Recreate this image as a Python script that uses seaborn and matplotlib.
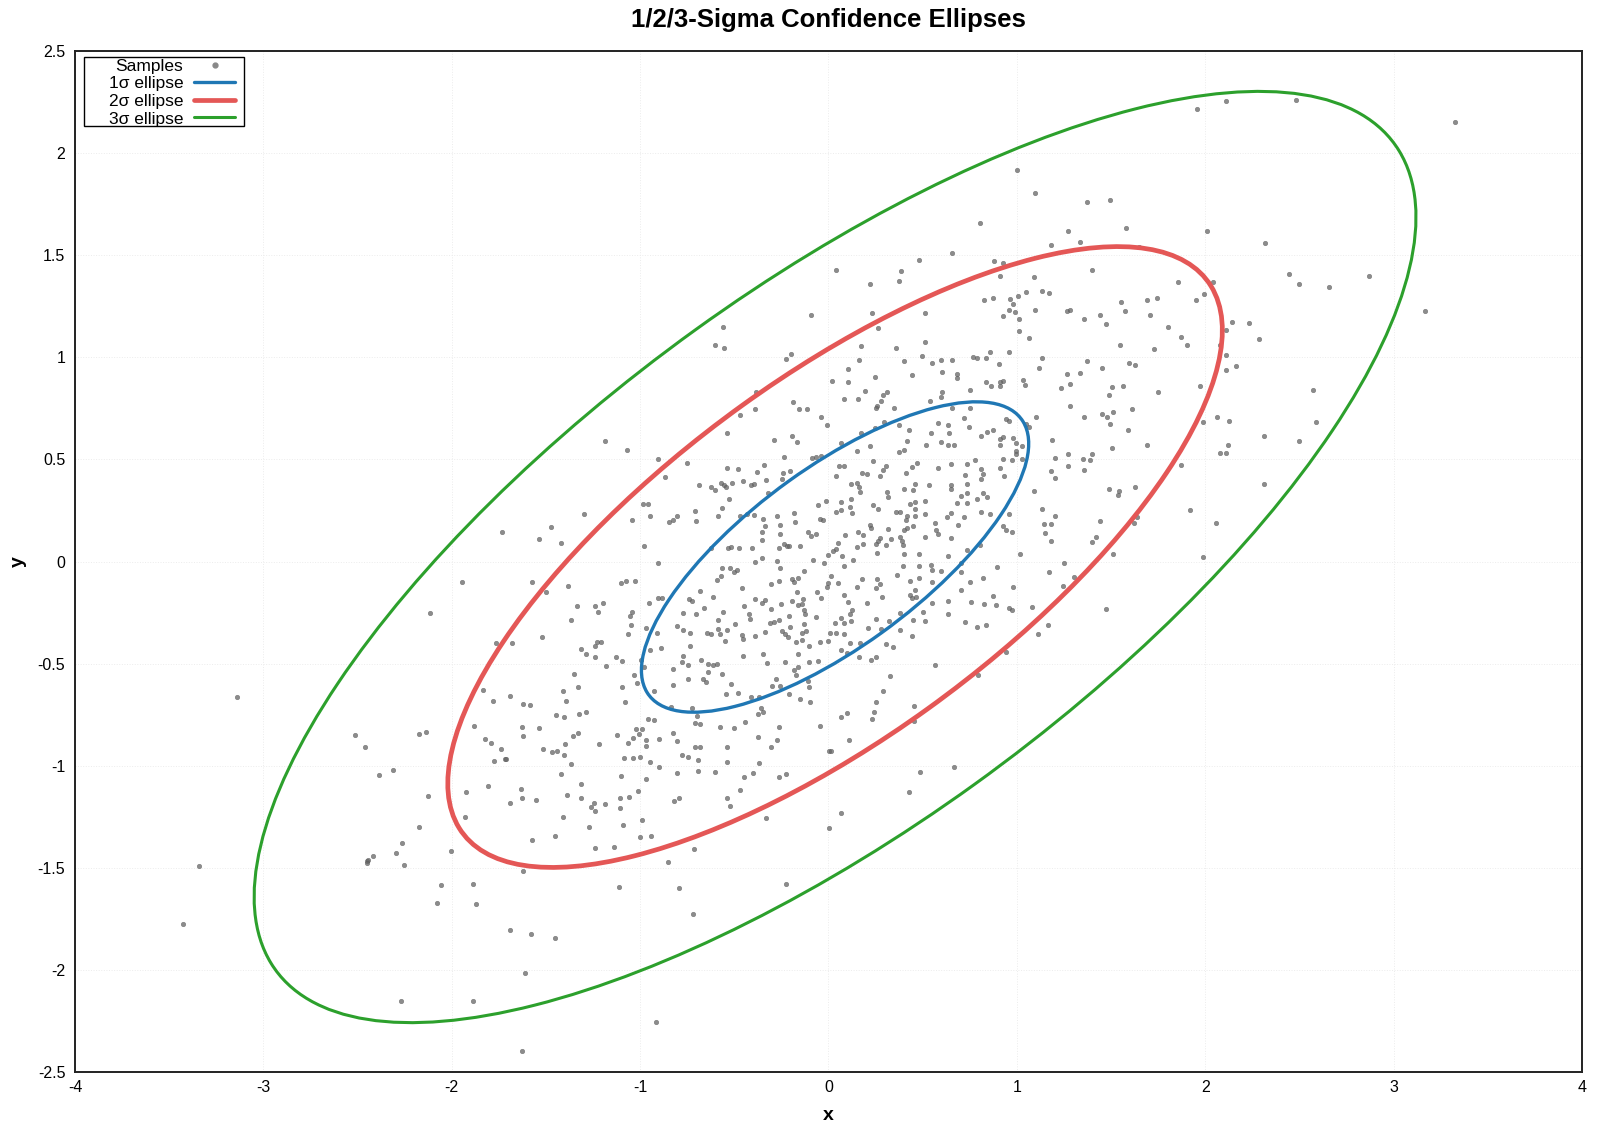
import numpy as np
import pandas as pd
import matplotlib
matplotlib.use("Agg")
import matplotlib.pyplot as plt
import seaborn as sns
from matplotlib.patches import Ellipse, Rectangle
from matplotlib.lines import Line2D
from matplotlib.ticker import MultipleLocator, FormatStrFormatter

# sample points, region by region
sample_pts = [
    # upper middle
    (-0.094, 1.205), (-0.561, 1.147), (-0.603, 1.058), (-0.556, 1.044), (-0.226, 0.99), (-0.2, 1.014),
    (-0.386, 0.828), (-0.391, 0.747), (-0.189, 0.779), (-0.157, 0.747), (-0.115, 0.747),
    # upper right of centre
    (1.0, 1.915), (1.099, 1.803), (1.375, 1.758), (1.492, 1.768), (0.802, 1.656), (1.274, 1.617),
    (1.577, 1.631), (1.333, 1.563), (1.184, 1.548), (1.651, 1.54), (0.658, 1.509), (0.483, 1.475),
    (0.881, 1.47), (0.924, 1.46), (0.042, 1.426), (0.387, 1.421), (0.908, 1.396), (0.372, 1.372),
    (0.218, 1.357), (1.397, 1.426), (1.089, 1.391), (1.051, 1.318), (1.136, 1.323), (1.173, 1.313),
    (1.004, 1.298), (0.828, 1.279), (0.876, 1.289), (0.966, 1.284), (0.977, 1.259), (0.956, 1.23),
    (0.988, 1.22), (0.924, 1.2), (1.009, 1.186), (1.099, 1.23), (1.264, 1.225), (1.28, 1.23),
    (1.354, 1.186), (1.439, 1.205), (1.471, 1.161), (1.551, 1.269), (1.572, 1.225), (1.689, 1.279),
    (1.705, 1.205), (0.232, 1.215), (0.51, 1.215), (0.265, 1.142), (1.011, 1.127), (1.064, 1.093),
    (0.175, 1.053), (0.356, 1.044), (0.51, 1.073), (0.494, 1.005), (0.961, 1.024), (1.549, 1.058),
    (0.106, 0.941), (0.164, 0.985), (0.403, 0.98), (0.547, 0.97), (0.6, 0.985), (0.658, 0.985),
    (0.765, 1.0), (0.791, 0.995), (0.834, 0.995), (0.855, 1.024), (0.903, 0.965), (1.131, 0.995),
    (1.12, 0.946), (1.37, 0.98), (1.45, 0.946), (1.598, 0.97), (1.625, 0.96), (1.726, 1.039),
    (0.021, 0.882), (0.106, 0.877), (0.249, 0.902), (0.441, 0.912), (0.605, 0.926), (0.68, 0.916),
    (0.68, 0.897), (0.834, 0.877), (0.861, 0.858), (0.908, 0.858), (0.924, 0.882), (0.908, 0.877),
    (1.035, 0.887), (1.046, 0.863), (1.264, 0.916), (1.333, 0.921), (1.28, 0.867), (1.232, 0.848),
    (1.503, 0.853), (1.566, 0.858), (1.487, 0.814), (0.754, 0.838), (0.196, 0.833), (0.292, 0.814),
    (0.313, 0.828), (0.085, 0.794), (0.159, 0.794), (0.281, 0.784), (0.26, 0.76), (0.254, 0.75),
    (0.35, 0.75), (0.537, 0.784), (0.605, 0.828), (0.6, 0.804), (0.658, 0.75), (0.754, 0.75),
    (1.28, 0.76), (1.609, 0.745),
    # top right
    (1.954, 2.214), (2.108, 2.253), (2.48, 2.258), (3.324, 2.15), (2.012, 1.617), (2.32, 1.558),
    (2.443, 1.406), (2.496, 1.357), (2.655, 1.342), (2.867, 1.396), (1.853, 1.367), (2.044, 1.367),
    (1.743, 1.289), (1.949, 1.279), (1.991, 1.308), (3.165, 1.225), (1.805, 1.147), (2.14, 1.171),
    (2.23, 1.166), (2.108, 1.132), (1.869, 1.098), (1.906, 1.058), (2.283, 1.088), (2.081, 1.058),
    (2.113, 1.009), (2.166, 0.956), (2.113, 0.936), (1.97, 0.858), (1.752, 0.828), (2.57, 0.838),
    # left
    (-1.733, 0.146), (-1.943, -0.099), (-2.118, -0.251), (-1.763, -0.398), (-3.138, -0.662),
    (-1.832, -0.628), (-1.779, -0.681), (-1.881, -0.804),
    # centre left
    (-0.469, 0.715), (-0.042, 0.707), (-0.009, 0.666), (-0.54, 0.631), (-1.189, 0.591), (-1.071, 0.547),
    (-0.906, 0.503), (-0.749, 0.484), (-0.29, 0.596), (-0.195, 0.616), (-0.168, 0.586), (-0.237, 0.513),
    (-0.088, 0.508), (-0.065, 0.513), (-0.041, 0.518), (-0.343, 0.474), (-0.54, 0.459), (-0.481, 0.454),
    (-0.379, 0.44), (-0.241, 0.435), (-0.205, 0.444), (-0.869, 0.415), (-0.688, 0.376), (-0.625, 0.366),
    (-0.604, 0.352), (-0.572, 0.386), (-0.556, 0.376), (-0.545, 0.366), (-0.513, 0.386), (-0.455, 0.396),
    (-0.412, 0.376), (-0.396, 0.381), (-0.333, 0.4), (-0.248, 0.405), (-0.322, 0.337), (-0.529, 0.308),
    (-0.986, 0.283), (-0.959, 0.283), (-1.299, 0.234), (-0.71, 0.249), (-0.566, 0.263), (-0.949, 0.224),
    (-1.044, 0.205), (-0.848, 0.195), (-0.827, 0.205), (-0.806, 0.224), (-0.704, 0.2), (-0.588, 0.224),
    (-0.471, 0.224), (-0.434, 0.234), (-0.396, 0.229), (-0.349, 0.21), (-0.274, 0.224), (-0.184, 0.239),
    (-0.056, 0.278), (-0.014, 0.298), (-1.474, 0.17), (-1.538, 0.112), (-1.421, 0.092), (-0.981, 0.077),
    (-0.338, 0.175), (-0.258, 0.18), (-0.179, 0.195), (-0.354, 0.146), (-0.258, 0.136), (-0.11, 0.146),
    (-0.094, 0.126), (-0.067, 0.136), (-0.046, 0.21), (-0.03, 0.205), (-0.354, 0.107), (-0.237, 0.087),
    (-0.221, 0.077), (-0.211, 0.077), (-0.152, 0.077), (-0.264, 0.068), (-0.407, 0.068), (-0.476, 0.068),
    (-0.534, 0.068), (-0.518, 0.072), (-0.625, 0.068), (-0.906, -0.006), (-0.391, -0.001), (-0.354, 0.019),
    (-0.274, 0.004), (-0.258, -0.03), (-0.083, 0.009), (-0.003, 0.033), (-0.025, -0.006), (-0.566, -0.03),
    (-0.524, -0.03), (-0.503, -0.05), (-0.487, -0.04), (-0.572, -0.069), (-0.593, -0.089), (-1.575, -0.099),
    (-1.384, -0.118), (-1.501, -0.148), (-1.103, -0.104), (-1.076, -0.094), (-1.028, -0.094), (-0.46, -0.129),
    (-0.306, -0.109), (-0.264, -0.094), (-0.195, -0.084), (-0.184, -0.099), (-0.163, -0.079), (-0.131, -0.045),
    (-0.062, -0.148), (-0.041, -0.177), (-0.003, -0.104), (-0.009, -0.123), (-0.168, -0.148), (-0.683, -0.143),
    (-0.741, -0.182), (-0.726, -0.192), (-0.611, -0.172), (-0.906, -0.177), (-0.885, -0.177), (-0.954, -0.202),
    (-1.336, -0.216), (-1.241, -0.216), (-1.198, -0.202), (-1.225, -0.246), (-1.368, -0.285), (-1.055, -0.265),
    (-1.044, -0.246), (-1.05, -0.309), (-0.773, -0.251), (-0.704, -0.256), (-0.662, -0.226), (-0.561, -0.246),
    (-0.588, -0.285), (-0.451, -0.216), (-0.423, -0.256), (-0.391, -0.182), (-0.354, -0.202), (-0.338, -0.187),
    (-0.306, -0.231), (-0.253, -0.207), (-0.195, -0.192), (-0.136, -0.182), (-0.163, -0.211), (-0.142, -0.207),
    (-0.131, -0.236), (-0.126, -0.256), (-0.211, -0.265), (-0.067, -0.27), (-0.418, -0.28), (-0.31, -0.3),
    (-0.29, -0.295), (-0.264, -0.285), (-0.131, -0.304), (-0.497, -0.305), (-0.805, -0.314), (-0.773, -0.334),
    (-0.736, -0.349), (-0.646, -0.349), (-0.625, -0.353), (-0.588, -0.329), (-0.577, -0.353), (-0.54, -0.334),
    (-0.55, -0.388), (-0.46, -0.358), (-0.455, -0.378), (-0.391, -0.363), (-0.338, -0.344), (-0.248, -0.339),
    (-0.232, -0.353), (-0.216, -0.368), (-0.205, -0.319), (-0.142, -0.349), (-0.12, -0.339), (-0.173, -0.393),
    (-0.142, -0.383), (-0.104, -0.412), (-0.046, -0.393), (-0.003, -0.388), (-0.97, -0.324), (-0.912, -0.349),
    (-1.064, -0.353), (-1.522, -0.368), (-1.682, -0.398), (-1.23, -0.393), (-1.209, -0.393), (-1.241, -0.412),
    (-1.315, -0.427), (-1.288, -0.451), (-1.241, -0.466), (-1.182, -0.51), (-1.129, -0.466), (-1.097, -0.486),
    (-0.996, -0.481), (-0.98, -0.515), (-0.948, -0.432), (-0.89, -0.422), (-0.736, -0.412), (-0.773, -0.461),
    (-0.778, -0.49), (-0.827, -0.525), (-0.747, -0.505), (-0.678, -0.481), (-0.641, -0.5), (-0.614, -0.505),
    (-0.593, -0.5), (-0.641, -0.539), (-0.566, -0.549), (-0.455, -0.461), (-0.349, -0.451), (-0.328, -0.495),
    (-0.232, -0.49), (-0.161, -0.451), (-0.104, -0.49), (-0.057, -0.486), (-0.163, -0.515), (-0.184, -0.529),
    (-0.173, -0.554), (-1.352, -0.549), (-1.331, -0.613), (-1.034, -0.554), (-1.018, -0.593), (-1.097, -0.613),
    (-0.747, -0.574), (-0.667, -0.574), (-0.651, -0.588), (-0.827, -0.603), (-0.927, -0.632), (-0.518, -0.598),
    (-0.545, -0.647), (-0.481, -0.642), (-0.412, -0.662), (-0.37, -0.662), (-0.301, -0.608), (-0.279, -0.574),
    (-0.258, -0.608), (-0.211, -0.647), (-0.152, -0.672), (-0.11, -0.584), (-0.104, -0.613), (-0.099, -0.686),
    (-1.692, -0.657), (-1.411, -0.633), (-1.395, -0.681), (-1.623, -0.696), (-1.586, -0.701), (-1.081, -0.686),
    (-1.444, -0.75), (-1.402, -0.76), (-1.327, -0.745), (-1.285, -0.735), (-0.837, -0.711), (-0.726, -0.716),
    (-0.699, -0.755), (-0.959, -0.77), (-0.927, -0.775), (-0.359, -0.716), (-0.349, -0.735), (-0.375, -0.745),
    (-0.71, -0.789), (-0.683, -0.794), (-0.577, -0.809), (-0.503, -0.814), (-0.444, -0.784), (-0.264, -0.809),
    (-0.046, -0.804), (-1.628, -0.809), (-1.538, -0.814), (-1.023, -0.819), (-0.991, -0.819),
    # centre right
    (0.722, 0.704), (0.745, 0.66), (0.579, 0.68), (0.632, 0.67), (0.542, 0.631), (0.642, 0.631),
    (0.6, 0.586), (0.637, 0.572), (0.669, 0.572), (0.52, 0.572), (0.43, 0.645), (0.377, 0.67),
    (0.297, 0.684), (0.249, 0.655), (0.175, 0.631), (0.069, 0.582), (0.223, 0.567), (0.154, 0.542),
    (0.419, 0.591), (0.403, 0.547), (0.377, 0.538), (0.945, 0.699), (0.956, 0.689), (0.812, 0.616),
    (0.839, 0.635), (0.876, 0.645), (0.908, 0.601), (0.929, 0.611), (0.908, 0.572), (0.977, 0.606),
    (0.998, 0.582), (1.03, 0.567), (0.993, 0.542), (0.998, 0.528), (1.051, 0.675), (1.062, 0.66),
    (1.104, 0.709), (1.354, 0.709), (1.45, 0.724), (1.481, 0.709), (1.492, 0.675), (1.508, 0.733),
    (1.588, 0.645), (1.689, 0.572), (1.189, 0.596), (1.503, 0.557), (1.274, 0.528), (1.349, 0.503),
    (1.397, 0.528), (1.391, 0.498), (1.2, 0.508), (1.274, 0.469), (1.354, 0.449), (1.179, 0.445),
    (1.2, 0.41), (0.929, 0.503), (0.972, 0.498), (1.03, 0.503), (0.908, 0.459), (0.934, 0.42),
    (0.78, 0.498), (0.812, 0.454), (0.823, 0.43), (0.812, 0.405), (0.738, 0.479), (0.727, 0.425),
    (0.653, 0.479), (0.579, 0.459), (0.472, 0.484), (0.446, 0.464), (0.409, 0.435), (0.308, 0.469),
    (0.292, 0.449), (0.239, 0.493), (0.18, 0.435), (0.202, 0.43), (0.271, 0.42), (0.058, 0.469),
    (0.085, 0.469), (0.042, 0.42), (0.122, 0.381), (0.149, 0.386), (0.164, 0.366), (0.17, 0.342),
    (0.122, 0.307), (0.069, 0.293), (0.112, 0.268), (0.069, 0.254), (0.042, 0.244), (0.127, 0.239),
    (0.313, 0.342), (0.318, 0.317), (0.239, 0.278), (0.265, 0.258), (0.4, 0.356), (0.448, 0.351),
    (0.458, 0.381), (0.533, 0.376), (0.648, 0.356), (0.653, 0.376), (0.738, 0.381), (0.701, 0.322),
    (0.733, 0.337), (0.738, 0.288), (0.68, 0.288), (0.791, 0.307), (0.823, 0.337), (0.839, 0.317),
    (0.812, 0.244), (0.86, 0.234), (0.956, 0.234), (1.089, 0.347), (1.131, 0.258), (1.2, 0.224),
    (1.142, 0.185), (1.179, 0.185), (1.152, 0.141), (1.179, 0.102), (0.929, 0.175), (0.945, 0.156),
    (0.972, 0.146), (1.019, 0.038), (0.807, 0.082), (0.733, 0.058), (0.69, 0.18), (0.717, 0.219),
    (0.648, 0.239), (0.627, 0.219), (0.568, 0.19), (0.573, 0.156), (0.584, 0.136), (0.653, 0.117),
    (0.51, 0.121), (0.51, 0.298), (0.462, 0.293), (0.435, 0.283), (0.515, 0.234), (0.457, 0.224),
    (0.457, 0.258), (0.419, 0.224), (0.414, 0.205), (0.356, 0.244), (0.382, 0.244), (0.451, 0.175),
    (0.419, 0.165), (0.403, 0.156), (0.318, 0.161), (0.218, 0.18), (0.228, 0.165), (0.159, 0.146),
    (0.185, 0.131), (0.087, 0.131), (0.334, 0.112), (0.382, 0.121), (0.393, 0.102), (0.398, 0.082),
    (0.276, 0.117), (0.265, 0.102), (0.254, 0.087), (0.308, 0.082), (0.185, 0.087), (0.154, 0.072),
    (0.053, 0.092), (0.042, 0.063), (0.026, 0.053), (0.074, 0.028), (0.26, 0.043), (0.131, 0.008),
    (0.403, 0.038), (0.478, 0.038), (0.632, 0.028), (0.085, -0.021), (0.398, -0.021), (0.478, -0.021),
    (0.542, -0.016), (0.547, -0.04), (0.595, -0.045), (0.701, -0.007), (0.701, -0.05), (0.897, -0.025),
    (1.248, -0.006), (1.173, -0.05), (1.301, -0.074), (1.243, -0.118), (0.016, -0.07), (0.048, -0.104),
    (0.18, -0.084), (0.154, -0.123), (0.26, -0.084), (0.276, -0.109), (0.254, -0.128), (0.366, -0.065),
    (0.435, -0.094), (0.483, -0.079), (0.547, -0.099), (0.754, -0.099), (0.823, -0.079), (0.977, -0.123),
    (0.703, -0.138), (0.462, -0.138), (0.435, -0.163), (0.446, -0.177), (0.467, -0.172), (0.285, -0.172),
    (0.08, -0.163), (0.106, -0.197), (0.207, -0.202), (0.552, -0.202), (0.637, -0.192), (0.759, -0.197),
    (0.828, -0.207), (0.876, -0.167), (0.892, -0.211), (0.961, -0.226), (0.972, -0.236), (1.083, -0.221),
    (1.471, -0.231), (0.127, -0.236), (0.112, -0.256), (0.069, -0.275), (0.122, -0.29), (0.037, -0.3),
    (0.08, -0.3), (0.254, -0.28), (0.324, -0.29), (0.382, -0.251), (0.451, -0.285), (0.501, -0.246),
    (0.515, -0.29), (0.637, -0.256), (0.727, -0.295), (0.786, -0.319), (0.834, -0.309), (1.168, -0.309),
    (1.11, -0.353), (0.009, -0.349), (0.042, -0.349), (0.085, -0.353), (0.212, -0.324), (0.281, -0.329),
    (0.382, -0.334), (0.446, -0.363), (0.112, -0.398), (0.17, -0.398), (0.308, -0.403), (0.34, -0.417),
    (0.069, -0.432), (0.101, -0.446), (0.164, -0.466), (0.228, -0.481), (0.254, -0.466), (0.94, -0.442),
    (0.568, -0.505), (0.329, -0.559), (0.796, -0.554), (0.287, -0.632), (0.254, -0.686), (0.456, -0.706),
    (0.244, -0.735), (0.233, -0.77), (0.064, -0.76), (0.101, -0.74), (0.456, -0.779), (1.62, 0.19),
    (1.636, 0.219), (1.625, 0.366), (1.487, 0.356), (1.535, 0.327), (1.545, 0.347), (1.444, 0.2),
    (1.418, 0.121), (1.397, 0.097), (1.513, 0.038),
    # right
    (1.988, 0.684), (2.065, 0.709), (2.124, 0.689), (2.31, 0.616), (2.496, 0.591), (2.586, 0.684),
    (2.119, 0.572), (2.081, 0.533), (2.108, 0.533), (1.869, 0.474), (2.31, 0.381), (1.917, 0.254),
    (2.055, 0.19), (1.986, 0.023),
    # bottom left
    (-2.511, -0.85), (-2.458, -0.909), (-2.172, -0.845), (-2.134, -0.835), (-1.821, -0.869),
    (-1.794, -0.889), (-1.736, -0.918), (-1.773, -0.977), (-1.717, -0.967), (-2.384, -1.046),
    (-2.31, -1.021), (-2.124, -1.148), (-1.922, -1.129), (-1.805, -1.1), (-1.927, -1.251),
    (-2.172, -1.3), (-2.262, -1.379), (-2.294, -1.428), (-2.416, -1.442), (-2.451, -1.467),
    (-2.443, -1.462), (-2.448, -1.476), (-2.251, -1.486), (-2.002, -1.418), (-3.34, -1.491),
    (-2.055, -1.584), (-1.885, -1.579), (-2.076, -1.672), (-1.869, -1.677), (-3.425, -1.775),
    (-2.267, -2.152), (-1.885, -2.152),
    # bottom middle
    (-1.623, -0.855), (-1.517, -0.918), (-1.469, -0.933), (-1.443, -0.928), (-1.4, -0.894),
    (-1.405, -0.948), (-1.358, -0.855), (-1.331, -0.84), (-1.22, -0.894), (-1.124, -0.85),
    (-1.065, -0.889), (-1.039, -0.865), (-1.007, -0.845), (-0.97, -0.874), (-0.97, -0.904),
    (-0.901, -0.869), (-0.827, -0.84), (-0.805, -0.879), (-0.779, -0.948), (-0.747, -0.958),
    (-0.71, -0.909), (-0.683, -0.909), (-0.694, -0.972), (-0.694, -1.026), (-0.603, -1.031),
    (-0.54, -0.909), (-0.54, -0.982), (-0.375, -0.86), (-0.306, -0.909), (-0.274, -0.874),
    (-0.37, -0.987), (-0.402, -1.036), (-0.449, -1.055), (-0.471, -1.119), (-0.264, -1.055),
    (-0.226, -1.041), (-0.54, -1.158), (-0.524, -1.197), (-0.333, -1.256), (0.005, -0.928),
    (0.002, -1.305), (-0.226, -1.579), (-1.712, -0.967), (-1.634, -1.114), (-1.628, -1.158),
    (-1.692, -1.183), (-1.554, -1.168), (-1.421, -1.041), (-1.368, -0.992), (-1.315, -1.09),
    (-1.39, -1.144), (-1.315, -1.158), (-1.411, -1.251), (-1.262, -1.202), (-1.246, -1.183),
    (-1.241, -1.222), (-1.188, -1.188), (-1.273, -1.3), (-1.103, -1.051), (-1.087, -0.962),
    (-1.039, -0.962), (-1.002, -0.958), (-0.949, -0.982), (-0.901, -1.007), (-0.97, -1.065),
    (-1.012, -1.124), (-1.06, -1.153), (-1.108, -1.158), (-1.108, -1.207), (-0.991, -1.266),
    (-1.092, -1.29), (-1.002, -1.349), (-0.943, -1.344), (-1.453, -1.344), (-1.575, -1.364),
    (-1.241, -1.403), (-1.14, -1.398), (-0.821, -1.173), (-0.795, -1.158), (-0.805, -1.036),
    (-0.715, -1.408), (-0.853, -1.472), (-1.623, -1.516), (-1.113, -1.594), (-0.795, -1.599),
    (-0.721, -1.726), (-1.692, -1.805), (-1.581, -1.824), (-1.453, -1.844), (-1.612, -2.015),
    (-0.917, -2.255), (-1.628, -2.397),
    # bottom right of centre
    (0.111, -0.874), (0.016, -0.928), (0.488, -1.031), (0.669, -1.007), (0.425, -1.129), (0.064, -1.232),
]

# ellipse parameters
center = (0.035, 0.022)
sigma_x = 1.028
sigma_y = 0.76
rho = 0.73
n_sigma = [1, 2, 3]
ellipse_labels = ["1σ ellipse", "2σ ellipse", "3σ ellipse"]
ellipse_colors = ["#1f77b4", "#e45756", "#2ca02c"]
ellipse_widths = [2.4, 3.4, 2.2]

sns.set_theme(style="white")
plt.rcParams["font.family"] = ["Liberation Sans", "DejaVu Sans"]
plt.rcParams["axes.unicode_minus"] = False
plt.rcParams["text.color"] = "black"
plt.rcParams["axes.labelcolor"] = "black"

df = pd.DataFrame(sample_pts, columns=["x", "y"])

fig, ax = plt.subplots(figsize=(16.2, 11.4), dpi=100)
fig.subplots_adjust(left=0.0463, right=0.9765, bottom=0.0596, top=0.9553)

sns.scatterplot(data=df, x="x", y="y", ax=ax, s=11, color="#666666", alpha=0.75,
                edgecolor="#555555", linewidth=0.3, legend=False, zorder=2)

cov = np.array([[sigma_x ** 2, rho * sigma_x * sigma_y],
                [rho * sigma_x * sigma_y, sigma_y ** 2]])
vals, vecs = np.linalg.eigh(cov)
angle = np.degrees(np.arctan2(vecs[1, 1], vecs[0, 1]))
for k, col, lw in zip(n_sigma, ellipse_colors, ellipse_widths):
    e = Ellipse(center, 2 * k * np.sqrt(vals[1]), 2 * k * np.sqrt(vals[0]), angle=angle,
                fill=False, edgecolor=col, linewidth=lw, zorder=3)
    ax.add_patch(e)

ax.set_xlim(-4, 4)
ax.set_ylim(-2.5, 2.5)
ax.xaxis.set_major_locator(MultipleLocator(1))
ax.xaxis.set_minor_locator(MultipleLocator(0.5))
ax.yaxis.set_major_locator(MultipleLocator(0.5))
ax.yaxis.set_minor_locator(MultipleLocator(0.25))
ax.xaxis.set_major_formatter(FormatStrFormatter("%g"))
ax.yaxis.set_major_formatter(FormatStrFormatter("%g"))
ax.tick_params(which="major", direction="in", length=5, width=1, colors="#333333",
               labelcolor="black", labelsize=11.5, pad=7)
ax.tick_params(which="minor", direction="in", length=3, width=0.8, colors="#333333")
ax.tick_params(axis="x", which="major", pad=6)
ax.grid(True, which="major", linestyle=":", color="#ececec", linewidth=0.7)
for sp in ax.spines.values():
    sp.set_visible(True)
    sp.set_color("#222222")
    sp.set_linewidth(1.4)

ax.set_xlabel("x", fontsize=14, fontweight="bold", labelpad=8)
ax.set_ylabel("y", fontsize=14, fontweight="bold", labelpad=8)
ax.set_title("1/2/3-Sigma Confidence Ellipses", fontsize=18.5, fontweight="bold",
             color="black", pad=17)

# gnuplot-style key: text right-aligned, sample on the right, wide box
handles = [Line2D([], [], linestyle="none", marker="o", markersize=3.5, color="#888888")]
for col, lw in zip(ellipse_colors, ellipse_widths):
    handles.append(Line2D([], [], color=col, linewidth=lw))
leg = ax.legend(handles, ["Samples"] + ellipse_labels, loc="upper right",
                bbox_to_anchor=(0.1065, 0.9925), markerfirst=False,
                fontsize=12.5, frameon=False, borderpad=0, labelspacing=0.14,
                handlelength=2.4, handletextpad=0.6, borderaxespad=0)
for t in leg.get_texts():
    t.set_color("black")
ax.add_patch(Rectangle((0.0058, 0.9265), 0.1062, 0.0678, transform=ax.transAxes,
                       fill=False, edgecolor="black", linewidth=1.0, zorder=5))

fig.savefig("out.png", dpi=100)
